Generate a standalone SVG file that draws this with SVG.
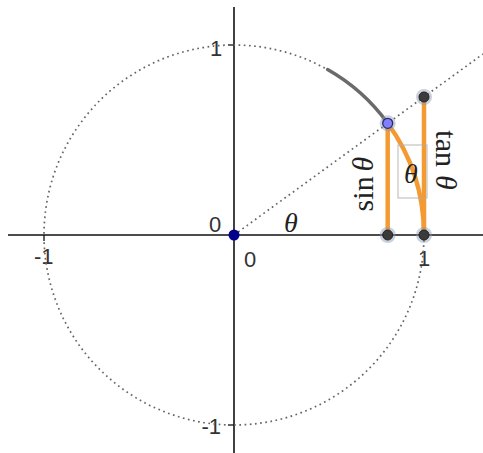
<svg xmlns="http://www.w3.org/2000/svg" width="483" height="453" viewBox="0 0 483 453">
<style>
.axis{stroke:#111;stroke-width:1.6;fill:none}
.tick{stroke:#111;stroke-width:1.3}
.dot{fill:none;stroke:#666;stroke-width:1.7;stroke-dasharray:1.7 3.5;stroke-linecap:butt}
.orange{fill:none;stroke:#f39a33;stroke-width:4.5;stroke-linecap:round}
.gray{fill:none;stroke:#6a6a6a;stroke-width:3.5;stroke-linecap:round}
.num{font-family:"Liberation Sans",Arial,sans-serif;font-size:22px;fill:#333}
.math{font-family:"Liberation Serif","Times New Roman",serif;font-size:28px;fill:#222}
.big{font-size:30px}
.it{font-style:italic}
.halo{fill:#8a9ab0;opacity:0.45}
.pt{fill:#3a3a3a;stroke:#222;stroke-width:1}
</style>
<rect width="483" height="453" fill="#ffffff"/>
<g id="axes">
<line class="axis" x1="8" y1="235" x2="483" y2="235"/>
<line class="axis" x1="234" y1="7" x2="234" y2="453"/>
<line class="tick" x1="44" y1="235" x2="44" y2="241"/>
<line class="tick" x1="424" y1="235" x2="424" y2="241"/>
<line class="tick" x1="228" y1="45" x2="234" y2="45"/>
<line class="tick" x1="228" y1="425" x2="234" y2="425"/>
<text class="num" x="215" y="232" text-anchor="middle">0</text>
<text class="num" x="250" y="267" text-anchor="middle">0</text>
<text class="num" x="34" y="264">-1</text>
<text class="num" x="424" y="266" text-anchor="middle">1</text>
<text class="num" x="216" y="56" text-anchor="middle">1</text>
<text class="num" x="221" y="434" text-anchor="end">-1</text>
</g>
<g id="circle">
<circle class="dot" cx="234" cy="235" r="190"/>
</g>
<g id="connectors">
<line class="dot" x1="234" y1="235" x2="483" y2="54"/>
<path class="gray" d="M327.6 69.6 A190 190 0 0 1 387.7 123.3"/>
<path class="orange" d="M387.7 123.3 A190 190 0 0 1 424 235"/>
<line class="orange" x1="387.7" y1="123.3" x2="387.7" y2="235"/>
<line class="orange" x1="424" y1="97" x2="424" y2="235"/>
</g>
<g id="labels">
<text class="math it" x="291" y="232" text-anchor="middle">θ</text>
<rect x="398" y="145" width="29" height="53" fill="none" stroke="#b0b0b0" stroke-width="0.9"/>
<text class="math it" x="411" y="183" text-anchor="middle">θ</text>
<text class="math big" x="0" y="0" text-anchor="middle" transform="translate(373 184) rotate(-90)">sin<tspan class="it" dx="5">θ</tspan></text>
<text class="math big" x="0" y="0" text-anchor="middle" transform="translate(436 160) rotate(90)">tan<tspan class="it" dx="8">θ</tspan></text>
</g>
<g id="point-origin">
<circle cx="234" cy="235" r="5.5" fill="#00008b"/>
</g>
<g id="point-P">
<circle class="halo" cx="387.7" cy="123.3" r="8"/>
<circle cx="387.7" cy="123.3" r="5" fill="#8080ff" stroke="#2a2a6a" stroke-width="1.3"/>
</g>
<g id="point-T">
<circle class="halo" cx="424" cy="97" r="8"/>
<circle class="pt" cx="424" cy="97" r="5"/>
</g>
<g id="point-C">
<circle class="halo" cx="387.7" cy="235" r="8"/>
<circle class="pt" cx="387.7" cy="235" r="5"/>
</g>
<g id="point-A">
<circle class="halo" cx="424" cy="235" r="8"/>
<circle class="pt" cx="424" cy="235" r="5"/>
</g>
</svg>
